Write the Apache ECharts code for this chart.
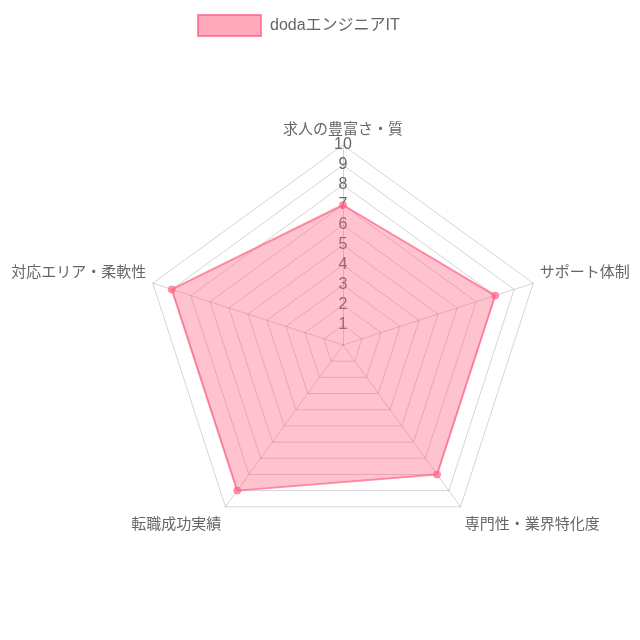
<!DOCTYPE html>
<html>
<head>
<meta charset="utf-8">
<script src="https://cdn.jsdelivr.net/npm/echarts@6/dist/echarts.min.js"></script>
<style>
html,body{margin:0;padding:0;background:#fff;}
#chart{width:640px;height:640px;}
</style>
</head>
<body>
<div id="chart"></div>
<script>
const seriesName = 'dodaエンジニアIT';
// clockwise from top
const categories = ['求人の豊富さ・質', 'サポート体制', '専門性・業界特化度', '転職成功実績', '対応エリア・柔軟性'];
const values = [7, 8, 8, 9, 9];
const scaleMax = 10;
const scaleSteps = 10;

const FONT = '"Liberation Sans", "Noto Sans CJK JP", sans-serif';
// ECharts radar runs counter-clockwise: keep first, reverse the rest
const order = [0].concat(categories.map((_, i) => i).slice(1).reverse());
const nameStyleKey = ['top', 'side', 'bottom', 'bottom', 'side'];

const chart = echarts.init(document.getElementById('chart'));
const indicator = order.map((ci, k) => {
  const o = { name: categories[ci], max: scaleMax, min: 0 };
  if (k === 0) {
    o.axisLabel = {
      show: true, margin: 0, align: 'center', verticalAlign: 'middle',
      showMinLabel: false, color: '#666', fontSize: 16, fontFamily: FONT
    };
  }
  return o;
});
const orderedNames = indicator.map(o => o.name);
chart.setOption({
  animation: false,
  backgroundColor: '#fff',
  legend: {
    top: 14, left: 197, padding: 0,
    itemWidth: 63, itemHeight: 21, itemGap: 10,
    icon: 'rect',
    data: [{ name: seriesName, icon: 'rect' }],
    itemStyle: { color: 'rgba(255,99,132,0.55)', borderColor: 'rgba(255,99,132,0.75)', borderWidth: 2 },
    textStyle: { color: '#666', fontSize: 16, fontFamily: FONT, padding: [0, 0, 0, 4] }
  },
  radar: {
    center: [343, 345],
    radius: 200,
    shape: 'polygon',
    splitNumber: scaleSteps,
    startAngle: 90,
    indicator: indicator,
    axisName: {
      color: '#666', fontSize: 15, fontFamily: FONT,
      formatter: function (value) {
        const k = orderedNames.indexOf(value);
        return '{' + nameStyleKey[k] + '|' + value + '}';
      },
      rich: {
        top: { color: '#666', fontSize: 15, fontFamily: FONT },
        side: { color: '#666', fontSize: 15, fontFamily: FONT, padding: [0, 0, 16, 0] },
        bottom: { color: '#666', fontSize: 15, fontFamily: FONT, padding: [24, 0, 0, 0] }
      }
    },
    nameGap: 7,
    axisLine: { show: true, lineStyle: { color: 'rgba(0,0,0,0.17)', width: 1 } },
    splitLine: { show: true, lineStyle: { color: 'rgba(0,0,0,0.17)', width: 1 } },
    splitArea: { show: false },
    axisTick: { show: false },
    axisLabel: { show: false }
  },
  series: [{
    name: seriesName,
    type: 'radar',
    symbol: 'circle',
    symbolSize: 7,
    itemStyle: { color: 'rgba(255,99,132,0.65)', borderColor: 'rgba(255,99,132,0.65)' },
    lineStyle: { color: 'rgba(255,99,132,0.7)', width: 2 },
    areaStyle: { color: 'rgba(255,99,132,0.55)' },
    data: [{ value: order.map(i => values[i]), name: seriesName }]
  }]
});
</script>
</body>
</html>
